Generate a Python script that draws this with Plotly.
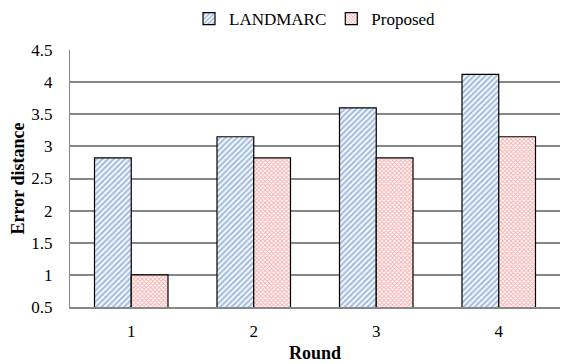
import plotly.graph_objects as go

rounds = ["1", "2", "3", "4"]
landmarc = [2.82, 3.15, 3.6, 4.12]
proposed = [1.0, 2.82, 2.82, 3.15]
yticks = [0.5, 1, 1.5, 2, 2.5, 3, 3.5, 4, 4.5]

font_family = "Liberation Serif, Times New Roman, serif"

# page body has an 8px default margin; the figure is sized to fit the 578x364 window
W, H = 570, 356

fig = go.Figure()
fig.add_trace(go.Bar(
    x=rounds, y=landmarc, name="LANDMARC", base=0,
    marker=dict(color="white", line=dict(color="black", width=1.2),
                pattern=dict(shape="/", fgcolor="#4a7cc0", bgcolor="white", size=4, solidity=0.55)),
))
fig.add_trace(go.Bar(
    x=rounds, y=proposed, name="Proposed", base=0,
    marker=dict(color="white", line=dict(color="black", width=1.2),
                pattern=dict(shape="x", fgcolor="#f25555", bgcolor="white", size=3, solidity=0.5)),
))

fig.update_layout(
    width=W, height=H,
    margin=dict(l=62, r=18, t=42, b=57, autoexpand=False),
    paper_bgcolor="white", plot_bgcolor="white",
    barmode="group", bargap=0.4, bargroupgap=0,
    font=dict(family=font_family, size=17, color="black"),
    legend=dict(orientation="h", x=0.5, xanchor="center",
                yref="container", y=1 - 11 / H, yanchor="middle",
                font=dict(size=17), itemwidth=30),
    showlegend=True,
)
fig.update_xaxes(
    title=dict(text="<b>Round</b>", font=dict(size=18), standoff=6),
    showline=True, linecolor="#868686", linewidth=2,
    ticks="", tickfont=dict(size=17), ticklabelstandoff=8,
)
fig.update_yaxes(
    title=dict(text="<b>Error distance</b>", font=dict(size=18), standoff=3),
    range=[0.5, 4.5], tickvals=yticks, ticktext=[f"{v:g}" for v in yticks],
    showgrid=True, gridcolor="#868686", gridwidth=2,
    showline=True, linecolor="#868686", linewidth=1,
    zeroline=False, ticks="", tickfont=dict(size=17), ticklabelstandoff=13,
)

fig.write_html("out.html")
